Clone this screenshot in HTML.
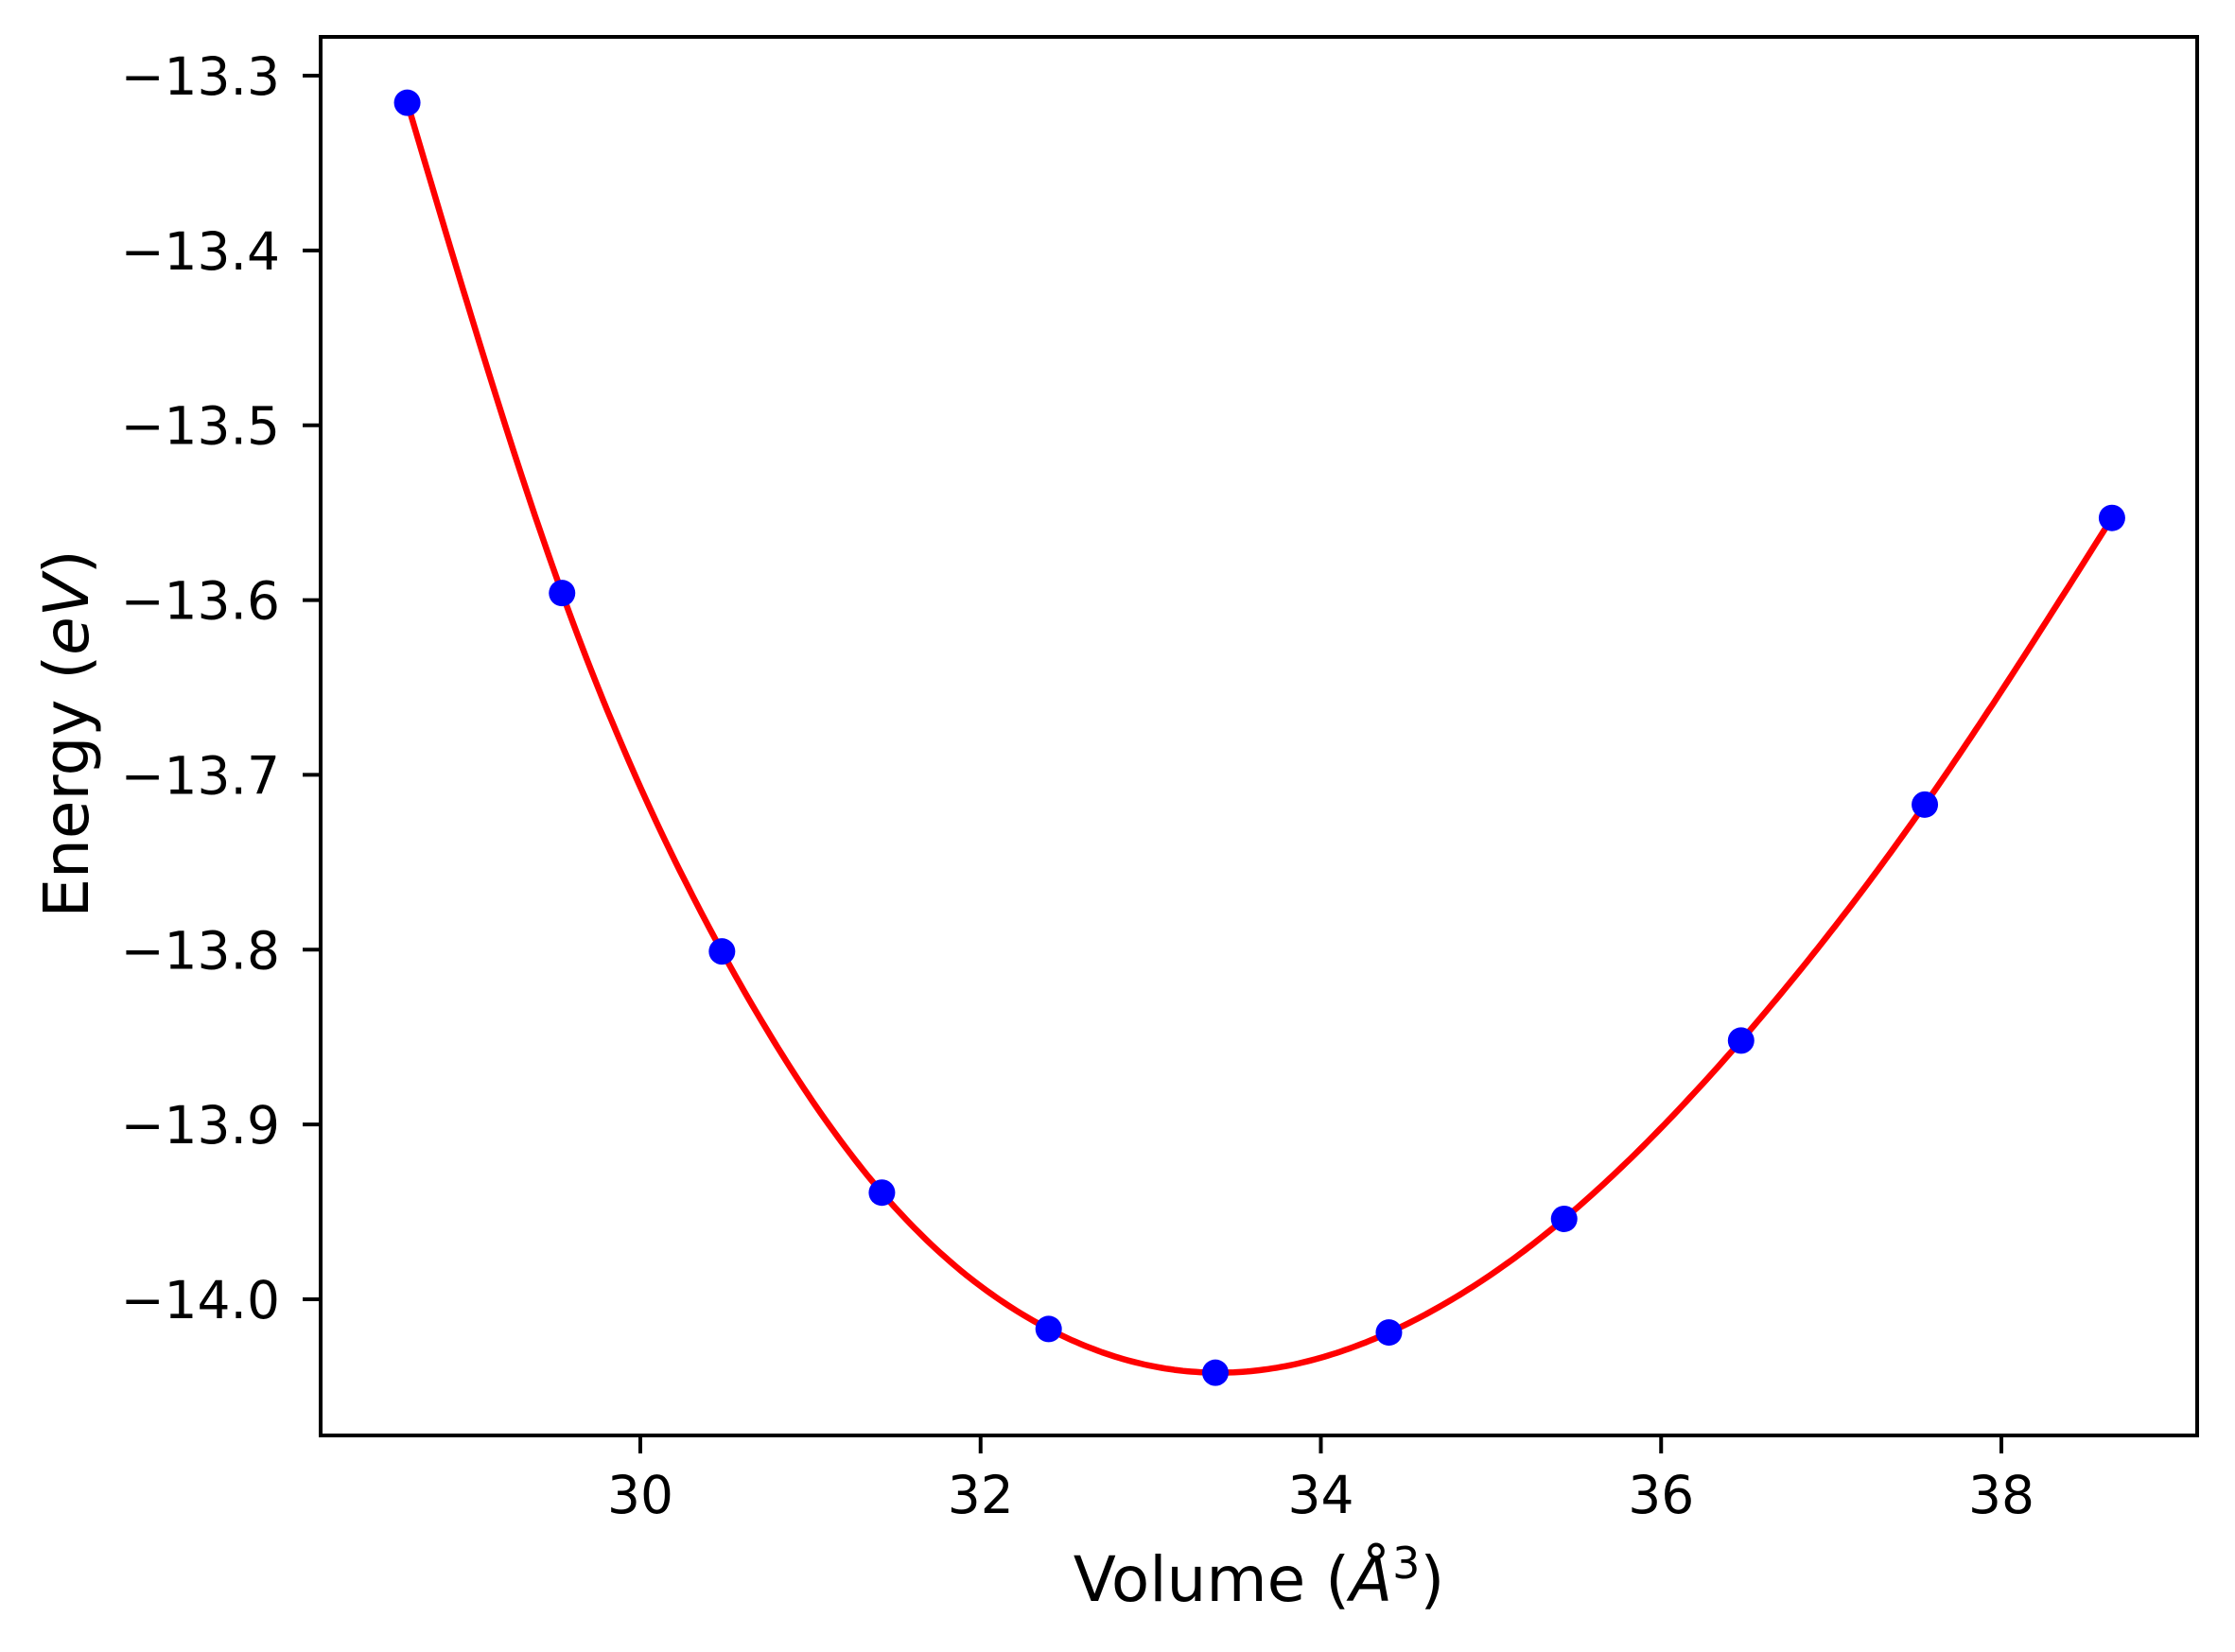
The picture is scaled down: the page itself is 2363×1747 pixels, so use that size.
<!DOCTYPE html>
<html><head><meta charset="utf-8"><style>
html,body{margin:0;padding:0;background:#fff;}
svg{display:block;font-family:"DejaVu Sans","Liberation Sans",sans-serif;}
</style></head><body>
<svg id="chart" width="2363" height="1747" viewBox="0 0 2363 1747" xmlns="http://www.w3.org/2000/svg">
<rect width="2363" height="1747" fill="#fff"/>
<g id="xticks"></g>
<g id="yticks"></g>
<path id="fit" fill="none" stroke="#ff0000" stroke-width="6.5" stroke-linejoin="round"/>
<g id="pts"></g>
<rect x="339" y="39" width="1984" height="1479" fill="none" stroke="#000" stroke-width="4"/>
<text x="1331" y="1693" font-size="66" text-anchor="middle">Volume (<tspan font-style="italic">Å</tspan><tspan font-size="46" dy="-24">3</tspan><tspan dy="24">)</tspan></text>
<text transform="translate(93,776) rotate(-90)" font-size="66" text-anchor="middle">Energy (<tspan font-style="italic">eV</tspan>)</text>
</svg>
<script>
const volumes = [28.63, 29.54, 30.48, 31.42, 32.40, 33.38, 34.40, 35.43, 36.47, 37.55, 38.65];
const energies = [-13.3155, -13.596, -13.801, -13.939, -14.017, -14.042, -14.019, -13.954, -13.852, -13.717, -13.553];
const xTicks = [30, 32, 34, 36, 38];
const yTicks = [-13.3, -13.4, -13.5, -13.6, -13.7, -13.8, -13.9, -14.0];
const yTickLabels = ["−13.3","−13.4","−13.5","−13.6","−13.7","−13.8","−13.9","−14.0"];

const NS = "http://www.w3.org/2000/svg";
function xs(v){ return 677 + (v - 30) * (2116 - 677) / 8; }
function ys(e){ return 80 + (-13.3 - e) * (1374 - 80) / 0.7; }

const xg = document.getElementById('xticks');
xTicks.forEach(t => {
  const l = document.createElementNS(NS,'line');
  
  
  l.setAttribute('x1',xs(t)); l.setAttribute('x2',xs(t));
  l.setAttribute('y1',1518); l.setAttribute('y2',1537);
  l.setAttribute('stroke','#000'); l.setAttribute('stroke-width','4');
  xg.appendChild(l);
  const tx = document.createElementNS(NS,'text');
  
  
  tx.setAttribute('x',xs(t)); tx.setAttribute('y',1600);
  tx.setAttribute('font-size','55'); tx.setAttribute('text-anchor','middle');
  tx.textContent = String(t);
  xg.appendChild(tx);
});
const yg = document.getElementById('yticks');
yTicks.forEach((t,i) => {
  const l = document.createElementNS(NS,'line');
  
  
  l.setAttribute('x1',320); l.setAttribute('x2',339);
  l.setAttribute('y1',ys(t)); l.setAttribute('y2',ys(t));
  l.setAttribute('stroke','#000'); l.setAttribute('stroke-width','4');
  yg.appendChild(l);
  const tx = document.createElementNS(NS,'text');
  
  
  tx.setAttribute('x',296); tx.setAttribute('y',ys(t)+20);
  tx.setAttribute('font-size','55'); tx.setAttribute('text-anchor','end');
  tx.textContent = yTickLabels[i];
  yg.appendChild(tx);
});

// natural cubic spline through data
function spline(x,y){
  const n=x.length, h=[], a=[], l=[1], mu=[0], z=[0], c=new Array(n).fill(0), b=[], d=[];
  for(let i=0;i<n-1;i++) h.push(x[i+1]-x[i]);
  for(let i=1;i<n-1;i++) a[i]=3/h[i]*(y[i+1]-y[i])-3/h[i-1]*(y[i]-y[i-1]);
  for(let i=1;i<n-1;i++){ l[i]=2*(x[i+1]-x[i-1])-h[i-1]*mu[i-1]; mu[i]=h[i]/l[i]; z[i]=(a[i]-h[i-1]*z[i-1])/l[i]; }
  l[n-1]=1; z[n-1]=0;
  for(let j=n-2;j>=0;j--){ c[j]=z[j]-mu[j]*c[j+1]; b[j]=(y[j+1]-y[j])/h[j]-h[j]*(c[j+1]+2*c[j])/3; d[j]=(c[j+1]-c[j])/(3*h[j]); }
  return v=>{ let i=0; while(i<n-2 && v>x[i+1]) i++; const dx=v-x[i]; return y[i]+b[i]*dx+c[i]*dx*dx+d[i]*dx*dx*dx; };
}
const f = spline(volumes, energies);
let dstr='';
const v0=volumes[0], v1=volumes[volumes.length-1];
for(let k=0;k<=400;k++){ const v=v0+(v1-v0)*k/400; dstr+=(k?'L':'M')+xs(v).toFixed(1)+','+ys(f(v)).toFixed(1); }
document.getElementById('fit').setAttribute('d',dstr);

const pg=document.getElementById('pts');
volumes.forEach((v,i)=>{
  const c=document.createElementNS(NS,'circle');
  
  
  c.setAttribute('cx',xs(v)); c.setAttribute('cy',ys(energies[i])); c.setAttribute('r',14);
  c.setAttribute('fill','#0000ff');
  pg.appendChild(c);
});
</script>
</body></html>
